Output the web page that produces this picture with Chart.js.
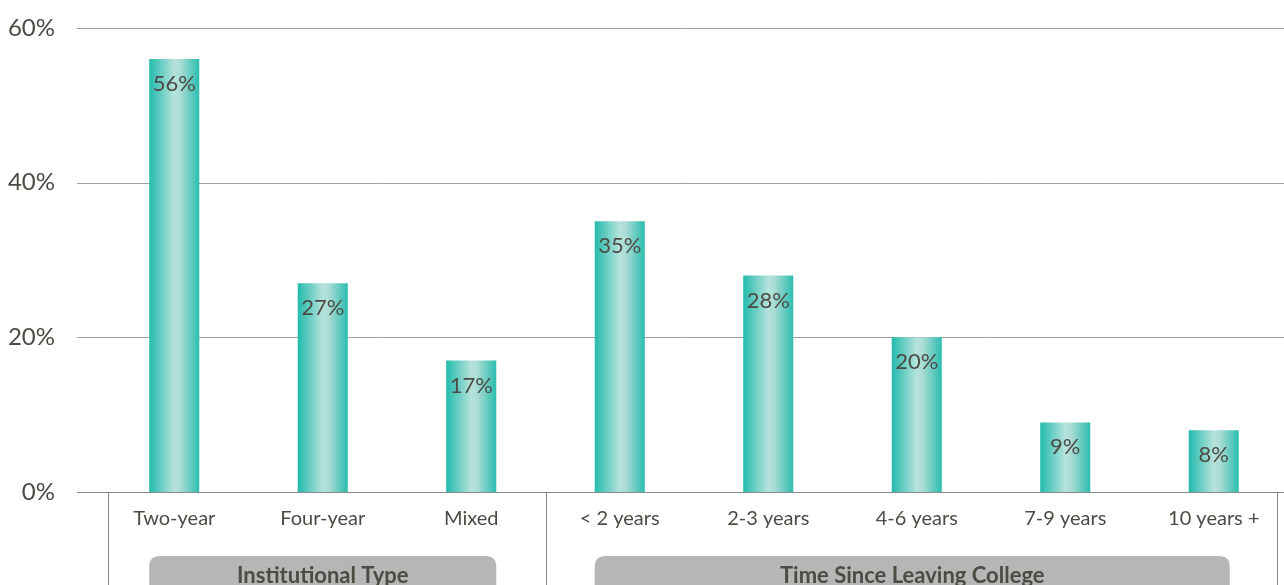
<!DOCTYPE html>
<html>
<head>
<meta charset="utf-8">
<script src="https://cdn.jsdelivr.net/npm/chart.js@4"></script>
<style>
  html, body { margin: 0; padding: 0; background: #fff; overflow: hidden; }
  #wrap { width: 1288px; height: 585px; }
</style>
</head>
<body>
<div id="wrap"><canvas id="barChart" width="1288" height="585"></canvas></div>
<script>
// data
const categories = ['Two-year', 'Four-year', 'Mixed', '< 2 years', '2-3 years', '4-6 years', '7-9 years', '10 years +'];
const values = [56, 27, 17, 35, 28, 20, 9, 8];
const yTicks = [0, 20, 40, 60];
const groupLabels = ['Institutional Type', 'Time Since Leaving College'];
const groupFirst = [0, 3];
const groupLast = [2, 7];

const textColor = '#4c4c45';
const fontFamily = 'Lato, "Open Sans", sans-serif';
const barPct = 0.337;

function barHalfWidth(chart) {
    const xs = chart.scales.x;
    return (xs.width / categories.length) * barPct / 2;
}

// gradient per bar (teal edges, pale centre)
function barFill(context) {
    const chart = context.chart;
    const xs = chart.scales.x;
    if (!chart.chartArea || !xs || context.dataIndex === undefined) return '#2bbfb0';
    const cx = xs.getPixelForValue(context.dataIndex);
    const hw = barHalfWidth(chart);
    const g = chart.ctx.createLinearGradient(cx - hw, 0, cx + hw, 0);
    g.addColorStop(0, '#22bbad');
    g.addColorStop(0.5, '#b6e2dc');
    g.addColorStop(0.62, '#aadcd5');
    g.addColorStop(1, '#2bbdaf');
    return g;
}

// horizontal grid lines starting left of the plot area
const gridPlugin = {
    id: 'gridLines',
    beforeDatasetsDraw(chart) {
        const c = chart.ctx;
        const ys = chart.scales.y;
        c.save();
        yTicks.forEach(function (t) {
            const y = Math.round(ys.getPixelForValue(t)) + 0.5;
            c.strokeStyle = t === 0 ? '#8a8a8a' : '#a0a0a0';
            c.lineWidth = 1;
            c.beginPath();
            c.moveTo(77, y);
            c.lineTo(chart.width, y);
            c.stroke();
        });
        c.restore();
    }
};

// value labels, separators and group boxes
const extrasPlugin = {
    id: 'extras',
    afterDatasetsDraw(chart) {
        const c = chart.ctx;
        const xs = chart.scales.x;
        const ys = chart.scales.y;
        const meta = chart.getDatasetMeta(0);
        c.save();
        c.fillStyle = textColor;
        c.font = '22px ' + fontFamily;
        c.textAlign = 'center';
        c.textBaseline = 'middle';
        meta.data.forEach(function (bar, i) {
            c.fillText(values[i] + '%', bar.x, bar.y + 25);
        });

        // separators
        const bottom = ys.getPixelForValue(0);
        const step = xs.width / categories.length;
        const seps = [
            xs.getPixelForValue(0) - step / 2 + 8,
            (xs.getPixelForValue(2) + xs.getPixelForValue(3)) / 2,
            xs.getPixelForValue(7) + 63
        ];
        c.strokeStyle = '#8a8a8a';
        c.lineWidth = 1;
        seps.forEach(function (x) {
            x = Math.round(x) + 0.5;
            c.beginPath();
            c.moveTo(x, bottom);
            c.lineTo(x, chart.height);
            c.stroke();
        });

        // group boxes
        const hw = barHalfWidth(chart);
        groupLabels.forEach(function (label, g) {
            const x0 = xs.getPixelForValue(groupFirst[g]) - hw;
            let x1 = xs.getPixelForValue(groupLast[g]) + hw;
            if (g === 1) x1 -= 9;
            const top = 556, r = 11, bot = chart.height + 20;
            c.fillStyle = '#b6b6b6';
            c.beginPath();
            c.moveTo(x0 + r, top);
            c.lineTo(x1 - r, top);
            c.quadraticCurveTo(x1, top, x1, top + r);
            c.lineTo(x1, bot);
            c.lineTo(x0, bot);
            c.lineTo(x0, top + r);
            c.quadraticCurveTo(x0, top, x0 + r, top);
            c.fill();
            c.fillStyle = textColor;
            c.font = 'bold 22px ' + fontFamily;
            c.fillText(label, (x0 + x1) / 2, 576);
        });
        c.restore();
    }
};

const ctx = document.getElementById('barChart');
new Chart(ctx, {
    type: 'bar',
    data: {
        labels: categories,
        datasets: [{
            data: values,
            backgroundColor: barFill,
            borderWidth: 0,
            barPercentage: barPct,
            categoryPercentage: 1
        }]
    },
    options: {
        responsive: false,
        animation: false,
        devicePixelRatio: 1,
        layout: { padding: { top: 28, left: 0, right: 0, bottom: 0 } },
        plugins: {
            legend: { display: false },
            tooltip: { enabled: false }
        },
        scales: {
            x: {
                grid: { display: false, drawTicks: false },
                border: { display: false },
                ticks: {
                    color: textColor,
                    font: { family: fontFamily, size: 20 },
                    padding: 15,
                    maxRotation: 0,
                    autoSkip: false
                },
                afterFit: function (scale) { scale.height = 93; }
            },
            y: {
                min: 0,
                max: 60,
                grid: { display: false, drawTicks: false },
                border: { display: false },
                ticks: {
                    stepSize: 20,
                    color: textColor,
                    padding: 45,
                    font: { family: fontFamily, size: 24 },
                    callback: function (v) { return v + '%'; }
                },
                afterFit: function (scale) {
                    scale.width = 100;
                    // tick padding would otherwise push the plot down
                    scale.paddingTop = 0;
                    scale.paddingBottom = 0;
                }
            }
        }
    },
    plugins: [gridPlugin, extrasPlugin]
});
</script>
</body>
</html>
